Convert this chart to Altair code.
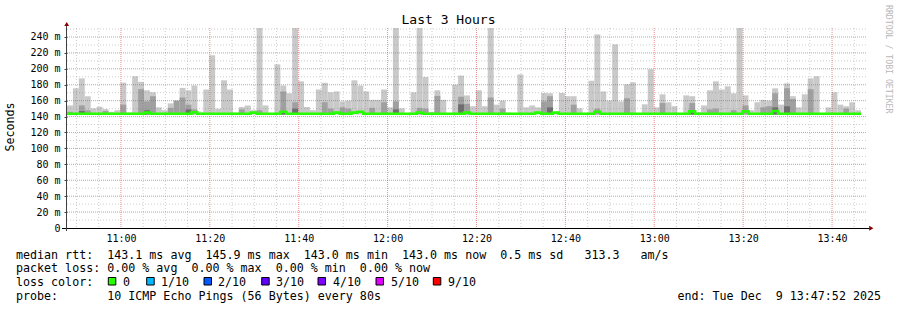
import altair as alt
import pandas as pd

# ---------------- data ----------------
START = "2025-12-09 10:47:52"
STEP_SECONDS = 80

# top of the smoke (slowest ping) per 80 s step, ms
rtt_max = [154, 175.5, 188, 165.5, 150.4, 152.5, 149.4, 146, 148, 182.6,
           145, 190.7, 183.6, 173, 170.6, 151.6, 148, 156.6, 160, 176,
           173, 179, 145.5, 174, 217, 150, 185.6, 174, 145, 152,
           154, 148, 252, 154, 144, 205.6, 179, 169.3, 252, 184.3,
           152, 148, 174, 182.6, 170.6, 171.6, 159, 160, 185.6, 179,
           171.6, 161, 161, 174, 151.6, 252, 150.5, 143.5, 170.6, 252,
           189.7, 146, 173, 161, 144, 180, 191.5, 166.6, 153, 173,
           153, 252, 155, 160, 145, 144, 193, 151.6, 154, 151.6,
           169.7, 169.3, 144, 169.7, 165.6, 165.6, 150.5, 144, 185, 243.3,
           171.6, 160, 230.8, 159, 180.5, 183, 144, 155.4, 199.4, 151.6,
           168, 158, 153, 144, 166.6, 165.6, 145.5, 154, 173, 184.3,
           174, 178, 169.3, 252, 166.6, 148, 158, 161, 160, 175.5,
           155, 181.7, 165.6, 151.6, 168, 188, 190.7, 144, 151.6, 170.6,
           155, 153, 158, 148]

# second smoke band (second slowest pings), ms; None = not visible
_mid = {0: 146, 2: 154, 3: 148, 6: 147, 9: 155, 12: 174.4, 13: 159, 14: 165.6,
        17: 151, 18: 160, 19: 164, 20: 155, 21: 149, 29: 149, 32: 148, 36: 171.5,
        38: 158, 43: 158, 44: 150, 46: 151.6, 47: 150, 51: 151, 53: 158, 55: 159,
        59: 151, 60: 150, 62: 166, 66: 165, 67: 156, 71: 164, 73: 150, 80: 159,
        81: 165.6, 85: 155, 89: 150, 94: 163, 100: 157, 105: 157, 108: 149,
        109: 150, 112: 148, 114: 154, 117: 151.6, 118: 153, 119: 169.3,
        121: 175.5, 122: 162, 125: 174.4, 131: 150}
rtt_mid = [_mid.get(i) for i in range(len(rtt_max))]

# inner (darkest) smoke band, ms
_dark = {2: 147, 13: 148, 20: 149, 36: 147, 38: 150, 55: 149, 66: 155.4,
         81: 151.6, 105: 148, 119: 151.6, 121: 153}
rtt_dark = [_dark.get(i) for i in range(len(rtt_max))]

# median rtt per step, ms
_med_bump = {13: 145, 21: 145.5, 31: 145, 36: 146, 45: 145, 48: 145, 49: 146,
             59: 145, 67: 145, 79: 145, 82: 145, 89: 146, 105: 146.5,
             114: 146.5, 119: 147}
rtt_median = [_med_bump.get(i, 143.5) for i in range(len(rtt_max))]
SMOKE_FLOOR = 142.5

y_ticks = [0, 20, 40, 60, 80, 100, 120, 140, 160, 180, 200, 220, 240]
title_text = "Last 3 Hours"
y_title = "Seconds"
watermark = "RRDTOOL / TOBI OETIKER"
line_rtt = "median rtt:  143.1 ms avg  145.9 ms max  143.0 ms min  143.0 ms now  0.5 ms sd   313.3   am/s"
line_loss = "packet loss: 0.00 % avg  0.00 % max  0.00 % min  0.00 % now"
line_color = "loss color:"
loss_labels = ["0", "1/10", "2/10", "3/10", "4/10", "5/10", "9/10"]
loss_colors = ["#26ff00", "#00b8ff", "#0059ff", "#5e00ff", "#7e00ff", "#dd00ff", "#ff0000"]
line_probe = "probe:       10 ICMP Echo Pings (56 Bytes) every 80s"
line_end = "end: Tue Dec  9 13:47:52 2025"

# ---------------- frames ----------------
FMT = "%Y-%m-%dT%H:%M:%S"
t0 = pd.Timestamp(START)
starts = [t0 + pd.Timedelta(seconds=STEP_SECONDS * i) for i in range(len(rtt_max))]
ends = [s + pd.Timedelta(seconds=STEP_SECONDS) for s in starts]
df = pd.DataFrame({
    "start": [s.strftime(FMT) for s in starts],
    "end": [e.strftime(FMT) for e in ends],
    "hi": rtt_max,
    "mid": rtt_mid,
    "dark": rtt_dark,
    "lo": SMOKE_FLOOR,
})
med = pd.DataFrame({
    "t": [s.strftime(FMT) for s in starts] + [ends[-1].strftime(FMT)],
    "v": rtt_median + [rtt_median[-1]],
})

minor_t = [t.strftime(FMT) for t in pd.date_range("2025-12-09 10:50", "2025-12-09 13:45", freq="5min")
           if t.minute % 20 != 0]
major_t = [t.strftime(FMT) for t in pd.date_range("2025-12-09 11:00", "2025-12-09 13:40", freq="20min")]
minor_v = list(range(10, 251, 20))
major_v = list(range(20, 251, 20))


def dt(h, m, s=0):
    return alt.DateTime(year=2025, month=12, date=9, hours=h, minutes=m, seconds=s)


W, H = 800, 200
FONT = "DejaVu Sans Mono"
xs = alt.Scale(domain=[dt(10, 47, 52), dt(13, 47, 52)])
ys = alt.Scale(domain=[0, 251.3], nice=False)

x_axis = alt.Axis(values=[dt(h, m) for h, m in [(11, 0), (11, 20), (11, 40), (12, 0), (12, 20),
                                                 (12, 40), (13, 0), (13, 20), (13, 40)]],
                  format="%H:%M", labelFont=FONT, labelFontSize=10, labelColor="#000",
                  domain=False, ticks=False, grid=False, labelPadding=5, title=None,
                  labelOverlap=False, tickCount=30)
y_axis = alt.Axis(values=y_ticks, labelExpr="datum.value == 0 ? '0\u00a0\u00a0' : datum.value + '\u00a0m'",
                  labelFont=FONT, labelFontSize=10, labelColor="#000", domain=False,
                  tickSize=3, tickColor="#404040", grid=False, labelPadding=4, title=None,
                  labelOverlap=False, labelBound=False, tickCount=30)

base = alt.Chart(df)
light = base.mark_bar(color="#c9c9c9", clip=True).encode(
    x=alt.X("start:T", scale=xs, axis=x_axis), x2="end:T",
    y=alt.Y("lo:Q", scale=ys, axis=y_axis), y2="hi:Q")
midb = base.transform_filter("isValid(datum.mid)").mark_bar(color="#a0a0a0", clip=True).encode(
    x=alt.X("start:T", scale=xs), x2="end:T", y=alt.Y("lo:Q", scale=ys), y2="mid:Q")
darkb = base.transform_filter("isValid(datum.dark)").mark_bar(color="#6e6e6e", clip=True).encode(
    x=alt.X("start:T", scale=xs), x2="end:T", y=alt.Y("lo:Q", scale=ys), y2="dark:Q")

vminor = alt.Chart(pd.DataFrame({"t": minor_t})).mark_rule(
    color="#7f7f7f", opacity=0.38, strokeDash=[1, 2], strokeWidth=1).encode(
    x=alt.X("t:T", scale=xs), y=alt.value(0), y2=alt.value(H))
vmajor = alt.Chart(pd.DataFrame({"t": major_t})).mark_rule(
    color="#e04848", opacity=0.6, strokeDash=[1, 1], strokeWidth=1).encode(
    x=alt.X("t:T", scale=xs), y=alt.value(0), y2=alt.value(H))
hminor = alt.Chart(pd.DataFrame({"v": minor_v})).mark_rule(
    color="#7f7f7f", opacity=0.38, strokeDash=[1, 2], strokeWidth=1).encode(
    y=alt.Y("v:Q", scale=ys), x=alt.value(0), x2=alt.value(W))
hmajor = alt.Chart(pd.DataFrame({"v": major_v})).mark_rule(
    color="#e04848", opacity=0.6, strokeDash=[1, 1], strokeWidth=1).encode(
    y=alt.Y("v:Q", scale=ys), x=alt.value(0), x2=alt.value(W))

median_line = alt.Chart(med).mark_line(color="#26ff00", strokeWidth=2.6, interpolate="step-after",
                                       clip=True).encode(
    x=alt.X("t:T", scale=xs), y=alt.Y("v:Q", scale=ys))

one = pd.DataFrame({"a": [0]})
ob = alt.Chart(one)
x_line = ob.mark_rule(color="#000", strokeWidth=1).encode(
    x=alt.value(-5), x2=alt.value(803), y=alt.value(H + 0.5))
y_line = ob.mark_rule(color="#404040", strokeWidth=1).encode(
    x=alt.value(-0.5), y=alt.value(-3), y2=alt.value(H + 3))
arrow_up = ob.mark_point(shape="triangle-up", filled=True, color="#8b0000", size=24, opacity=1).encode(
    x=alt.value(-0.3), y=alt.value(-4))
arrow_right = ob.mark_point(shape="triangle-right", filled=True, color="#8b0000", size=24, opacity=1).encode(
    x=alt.value(804.3), y=alt.value(H + 0.3))


def txt(s, x, y, size=11.66, align="left", angle=0, color="#000", baseline="alphabetic"):
    return ob.mark_text(text=s.replace(" ", "\u00a0"), font=FONT, fontSize=size, align=align,
                        baseline=baseline, angle=angle, color=color).encode(
        x=alt.value(x), y=alt.value(y))


OX, OY = 67, 28
texts = [
    txt(title_text, 448.5 - OX, 24 - OY, size=13, align="center"),
    txt(y_title, 11 - OX, 127 - OY, align="center", angle=270, baseline="middle"),
    txt(watermark, 887.5 - OX, 5 - OY, size=8.2, angle=90, color="#b8b8b8", baseline="middle"),
    txt(line_rtt, 16 - OX, 258.5 - OY),
    txt(line_loss, 16 - OX, 272.3 - OY),
    txt(line_color, 16 - OX, 286 - OY),
    txt(line_probe, 16 - OX, 300 - OY),
    txt(line_end, 881 - OX, 300 - OY, align="right"),
]

box_x = [108.3, 146.7, 204, 261.7, 318, 376, 433.3]
label_x = [123, 161, 218, 276, 333, 391, 448]
boxes = []
for bx, lx, lab, col in zip(box_x, label_x, loss_labels, loss_colors):
    boxes.append(ob.mark_rect(color=col, stroke="#000", strokeWidth=1).encode(
        x=alt.value(bx - OX), x2=alt.value(bx - OX + 7.5),
        y=alt.value(277.5 - OY), y2=alt.value(285 - OY)))
    boxes.append(txt(lab, lx - OX, 286 - OY))

chart = alt.layer(
    light, midb, darkb, vminor, hminor, vmajor, hmajor, median_line,
    x_line, y_line, arrow_up, arrow_right, *texts, *boxes
).properties(
    width=W, height=H,
    autosize=alt.AutoSizeParams(type="none"),
    padding={"left": OX, "top": OY, "right": 897 - OX - W, "bottom": 310 - OY - H},
    background="white",
).configure_view(stroke=None)

chart.save("out.html", embed_options={"renderer": "svg", "actions": False})
